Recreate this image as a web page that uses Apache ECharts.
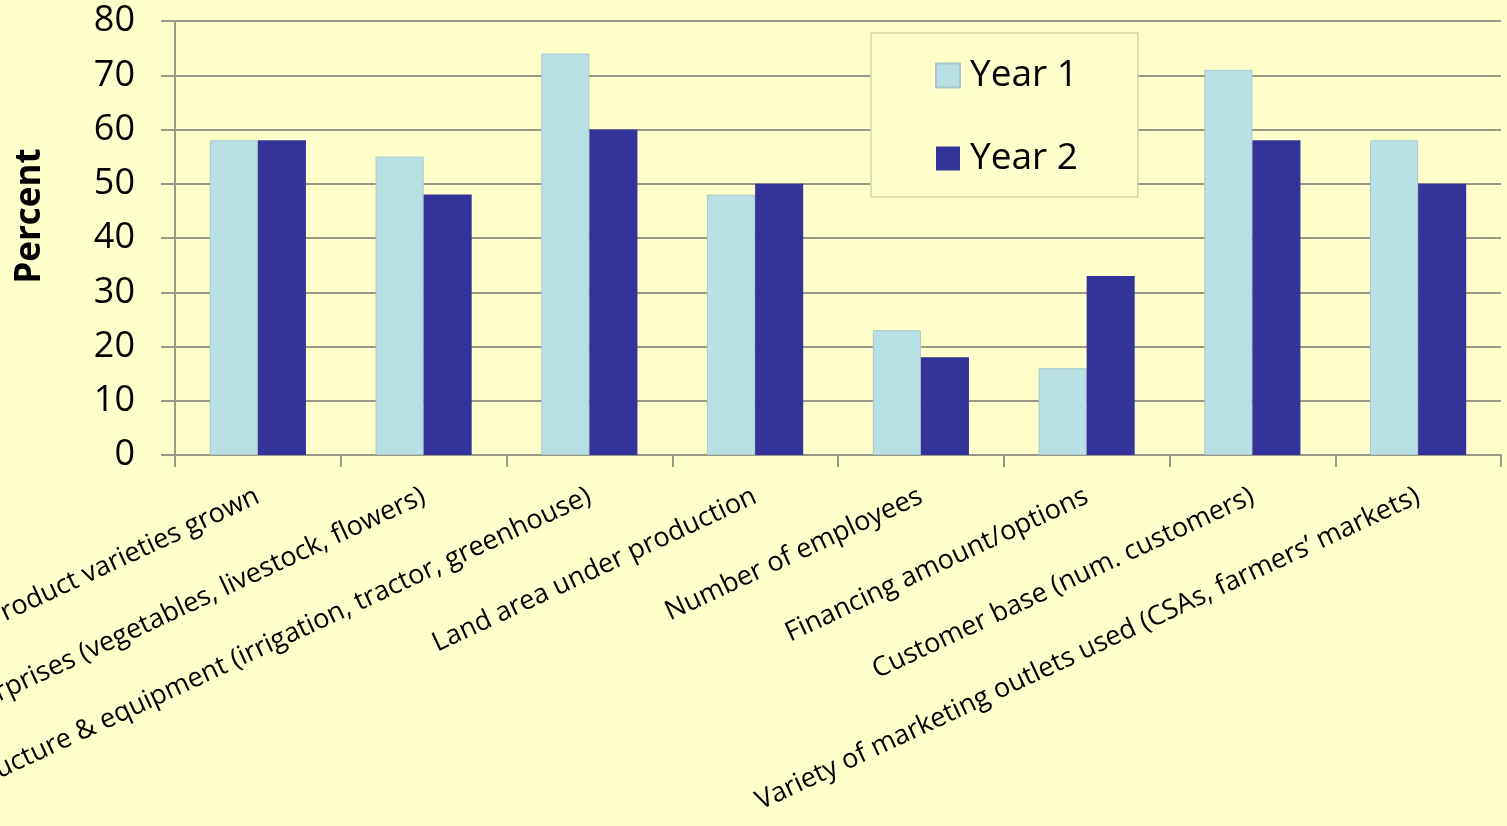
<!DOCTYPE html>
<html><head><meta charset="utf-8">
<script src="https://cdn.jsdelivr.net/npm/echarts@6/dist/echarts.min.js"></script>
<style>html,body{margin:0;padding:0;background:#FFFFCC;}#c{width:1507px;height:826px;}</style>
</head><body><div id="c"></div>
<script>
const categories = [
  "Product varieties grown",
  "Enterprises (vegetables, livestock, flowers)",
  "Infrastructure & equipment (irrigation, tractor, greenhouse)",
  "Land area under production",
  "Number of employees",
  "Financing amount/options",
  "Customer base (num. customers)",
  "Variety of marketing outlets used (CSAs, farmers\u2019 markets)"
];
const year1 = [58, 55, 74, 48, 23, 16, 71, 58];
const year2 = [58, 48, 60, 50, 18, 33, 58, 50];
const seriesNames = ["Year 1", "Year 2"];
const yTicks = { min: 0, max: 80, interval: 10 };

const FONT = "Open Sans";
const chart = echarts.init(document.getElementById('c'));
chart.setOption({
  backgroundColor: '#FFFFCC',
  animation: false,
  textStyle: { fontFamily: FONT },
  grid: { left: 175, right: 6, top: 21, bottom: 371, containLabel: false, outerBoundsMode: 'none' },
  legend: {
    orient: 'vertical',
    left: 871, top: 33,
    padding: [24, 60, 20, 64],
    itemWidth: 24, itemHeight: 24, itemGap: 46,
    icon: 'rect',
    borderColor: '#D6D6A8', borderWidth: 1.5,
    backgroundColor: '#FFFFCC',
    textStyle: { fontFamily: FONT, fontSize: 37, color: '#000', padding: [0, 0, 0, 5] },
    data: seriesNames
  },
  xAxis: {
    type: 'category',
    data: categories,
    axisLine: { lineStyle: { color: '#999988', width: 2 } },
    axisTick: { show: true, length: 12, alignWithLabel: false, lineStyle: { color: '#999988', width: 2 } },
    axisLabel: { rotate: 25, interval: 0, margin: 40, fontFamily: FONT, fontSize: 27, color: '#000', hideOverlap: false },
  },
  yAxis: {
    type: 'value',
    min: yTicks.min, max: yTicks.max, interval: yTicks.interval,
    name: 'Percent', nameLocation: 'middle', nameGap: 127, nameRotate: 90,
    nameTextStyle: { fontFamily: FONT, fontSize: 35, fontWeight: 'bold', color: '#000', padding: [0, 0, 0, 44] },
    axisLine: { show: true, lineStyle: { color: '#999988', width: 2 } },
    axisTick: { show: true, length: 14, lineStyle: { color: '#999988', width: 2 } },
    axisLabel: { margin: 40, fontFamily: FONT, fontSize: 36, color: '#000' },
    splitLine: { lineStyle: { color: '#999988', width: 2 } }
  },
  series: [
    { name: seriesNames[0], type: 'bar', data: year1, barGap: '0%', barCategoryGap: '42%',
      itemStyle: { color: '#B8E0E5', borderColor: '#A8C8CC', borderWidth: 1 } },
    { name: seriesNames[1], type: 'bar', data: year2, barGap: '0%', barCategoryGap: '42%',
      itemStyle: { color: '#333399' } }
  ]
});
</script></body></html>
